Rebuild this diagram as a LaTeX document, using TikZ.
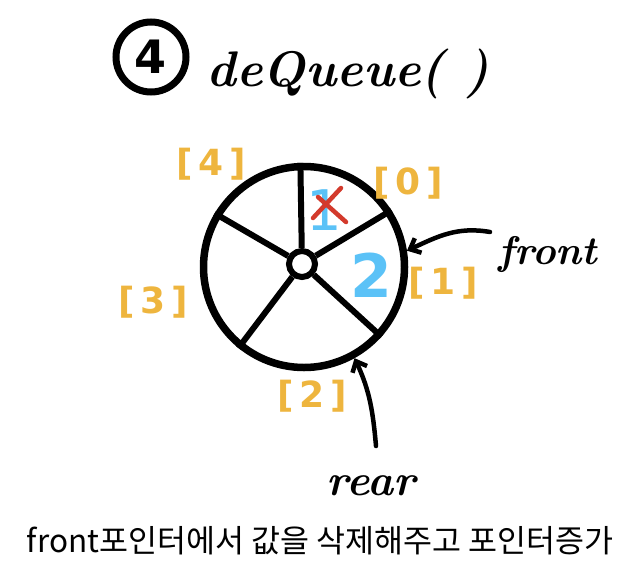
\documentclass[tikz,border=0pt]{standalone}
\usepackage{fontspec}
\usepackage{tikz}
\usetikzlibrary{arrows.meta}
\newfontfamily\krfont{Noto Sans CJK KR}
\newfontfamily\labfont{DejaVu Sans}
\definecolor{slotorange}{HTML}{EEB53E}
\definecolor{valblue}{HTML}{5BC2F7}
\definecolor{crossred}{HTML}{D33A2C}

\begin{document}
\begin{tikzpicture}[x=1pt,y=-1pt,
  slot/.style={text=slotorange,font=\labfont\bfseries\fontsize{36}{36}\selectfont},
  hand/.style={font=\bfseries\itshape\fontsize{#1}{#1}\selectfont},
  pointer/.style={line width=4.5pt,line cap=round,-{Straight Barb[length=9pt,width=16pt]}}]
 \useasboundingbox (0,0) rectangle (636,576);
 % title
 \node[circle,draw,line width=7pt,minimum size=70pt,inner sep=0pt,font=\labfont\bfseries\fontsize{46}{46}\selectfont] (four) at (151,57) {4};
 \node[hand=50,anchor=base west] (title) at (203,86) {deQueue( )};
 % queue wheel
 \node[circle,draw,line width=7.5pt,minimum size=201pt] (wheel) at (304,267) {};
 \node[circle,draw,line width=6pt,minimum size=26pt,inner sep=0pt] (hub) at (302,264) {};
 \foreach \a in {92,33,-42,-129,149} \draw[line width=6pt] (hub) -- (wheel.\a);
 % slot indices
 \node[slot] (s0) at (408,183) {[\,0\,]};
 \node[slot] (s1) at (443,283) {[\,1\,]};
 \node[slot] (s2) at (312,396) {[\,2\,]};
 \node[slot] (s3) at (153,302) {[\,3\,]};
 \node[slot] (s4) at (211,164) {[\,4\,]};
 % values
 \node[text=valblue,font=\labfont\fontsize{56}{56}\selectfont] (one) at (324,210) {1};
 \draw[crossred,line width=4.5pt,line cap=round] (318,197) -- (346,222) (341,188) -- (313,218);
 \node[text=valblue,font=\labfont\bfseries\fontsize{60}{60}\selectfont] (two) at (371,275) {2};
 % pointers
 \node[hand=40,anchor=base west] (front) at (495,264) {front};
 \node[hand=44,anchor=base] (rear) at (371,495) {rear};
 \coordinate (fronttail) at (490,232);
 \coordinate (reartail) at (376,446);
 \draw[pointer] (fronttail) to[out=170,in=25] (wheel.9);
 \draw[pointer] (reartail) to[out=95,in=-65] (wheel.-61);
 % caption
 \node[font=\krfont\fontsize{31.5}{31.5}\selectfont] (caption) at (320,541) {front포인터에서 값을 삭제해주고 포인터증가};
\end{tikzpicture}
\end{document}
